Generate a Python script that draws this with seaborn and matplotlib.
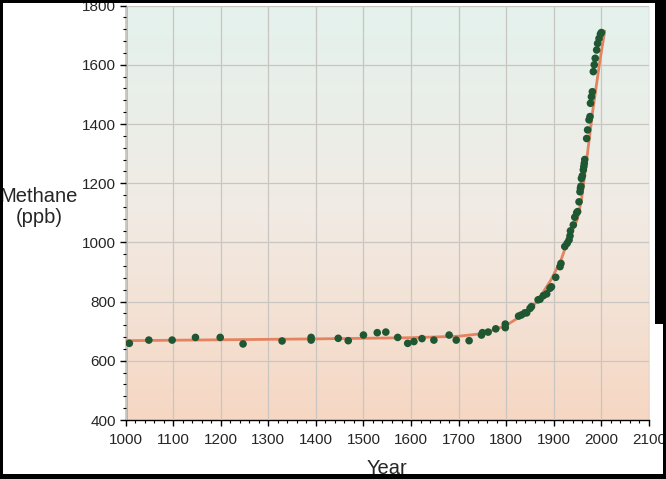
import numpy as np
import pandas as pd
import matplotlib
matplotlib.use('Agg')
import matplotlib.pyplot as plt
from matplotlib.patches import Rectangle
from matplotlib.colors import LinearSegmentedColormap
import seaborn as sns

obs_year = [1008, 1049, 1098, 1147, 1199, 1247, 1329, 1390, 1390, 1447,
            1468, 1500, 1529, 1547, 1572, 1593, 1606, 1623, 1648, 1680,
            1695, 1722, 1748, 1750, 1762, 1778, 1798, 1798, 1826, 1832,
            1839, 1843, 1850, 1853, 1867, 1871, 1878, 1885, 1892, 1895,
            1904, 1913, 1915, 1923, 1928, 1932, 1934, 1935, 1941, 1944,
            1948, 1950, 1953, 1955, 1956, 1957, 1958, 1960, 1962, 1963,
            1964, 1965, 1969, 1971, 1974, 1976, 1977, 1979, 1981, 1983,
            1985, 1987, 1990, 1992, 1995, 1998, 2000]
obs_ppb = [659, 670, 670, 679, 679, 657, 667, 679, 670, 676,
           668, 687, 695, 697, 679, 659, 665, 675, 670, 687,
           670, 668, 687, 695, 697, 708, 712, 724, 751, 755,
           762, 762, 777, 783, 806, 808, 820, 826, 845, 850,
           882, 918, 929, 986, 997, 1008, 1022, 1039, 1059, 1085,
           1100, 1104, 1137, 1171, 1183, 1190, 1216, 1225, 1245, 1256,
           1267, 1280, 1351, 1380, 1414, 1425, 1470, 1492, 1509, 1577,
           1600, 1622, 1650, 1672, 1689, 1704, 1709]

# fitted trend line
fit_year = [1000, 1200, 1400, 1600, 1700, 1750, 1780, 1800, 1829, 1850,
            1867, 1894, 1915, 1930, 1949, 1958, 1969, 1982, 1997, 2007]
fit_ppb = [668, 671, 674, 678, 683, 692, 708, 720, 749, 775,
           805, 873, 940, 1008, 1076, 1143, 1278, 1447, 1616, 1714]

x_ticks = list(range(1000, 2101, 100))
y_ticks = list(range(400, 1801, 200))

obs = pd.DataFrame({'Year': obs_year, 'Methane': obs_ppb})
fit = pd.DataFrame({'Year': fit_year, 'Methane': fit_ppb})

sns.set_style('white')
plt.rcParams['font.family'] = ['Liberation Sans', 'DejaVu Sans']

W, H = 666, 479
fig = plt.figure(figsize=(W / 100, H / 100), dpi=100)
fig.patch.set_facecolor('white')

ax = fig.add_axes([125.5 / W, 1 - 420 / H, (649 - 125.5) / W, (420 - 5.6) / H])
ax.set_facecolor('none')

# background gradient, mint at top to peach at bottom
grad = LinearSegmentedColormap.from_list('bg', ['#f6d7c3', '#f1ebe4', '#e4f2ed'])
ax.imshow(np.linspace(0, 1, 256).reshape(-1, 1), cmap=grad, origin='lower',
          extent=[1000, 2100, 400, 1800], aspect='auto', zorder=0)

sns.lineplot(data=fit, x='Year', y='Methane', sort=False, estimator=None,
             color='#e5825f', linewidth=2.0, ax=ax, zorder=3)
sns.scatterplot(data=obs, x='Year', y='Methane', color='#1f5733', s=30,
                edgecolor='none', ax=ax, zorder=4)

ax.set_xlim(1000, 2100)
ax.set_ylim(400, 1800)
ax.set_xticks(x_ticks)
ax.set_yticks(y_ticks)
ax.set_xticks(range(1000, 2101, 20), minor=True)
ax.set_yticks(range(400, 1801, 40), minor=True)
ax.grid(True, which='major', color='#c9c6c2', linewidth=0.9)
ax.set_axisbelow(False)
for line in ax.get_xgridlines() + ax.get_ygridlines():
    line.set_zorder(1)

for s in ['top', 'right']:
    ax.spines[s].set_visible(False)
for s in ['left', 'bottom']:
    ax.spines[s].set_color('black')
    ax.spines[s].set_linewidth(1.0)

ax.tick_params(which='major', direction='out', length=4, width=1, color='black',
               labelsize=11, pad=3, left=True, bottom=True)
ax.tick_params(axis='x', which='major', pad=5)
ax.tick_params(which='minor', direction='out', length=2, width=0.8, color='black',
               left=True, bottom=True)

ax.set_xlabel('')
ax.set_ylabel('')
fig.text(387 / W, 1 - 468 / H, 'Year', ha='center', va='center', fontsize=14.5)
fig.text(39 / W, 1 - 207 / H, 'Methane\n(ppb)', ha='center', va='center',
         fontsize=14.5, linespacing=1.1)

# black screenshot frame around the figure
frame = [(0, 0, 3, H), (0, 0, W, 5), (0, H - 3, W, 3),
         (655, 155, W - 655, H - 155), (663, 0, W - 663, 155)]
for x0, y0, w, h in frame:
    fig.patches.append(Rectangle((x0 / W, y0 / H), w / W, h / H,
                                 transform=fig.transFigure, facecolor='black',
                                 edgecolor='none', zorder=10))

fig.savefig('out.png', dpi=100, facecolor=fig.get_facecolor())
